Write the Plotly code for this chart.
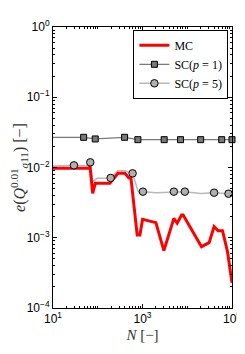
import plotly.graph_objects as go

# MC series
mc_n = [10, 65, 67, 77, 88, 187, 283, 405, 497, 551, 762, 875, 1005, 1990, 3006,
        5023, 5957, 7470, 8090, 9954, 20840, 30830, 39810, 48980, 61380, 79430,
        97500, 100000]
mc_e = [0.00975, 0.00975, 0.0105, 0.0043, 0.00596, 0.00596, 0.00826, 0.00826,
        0.0071, 0.0071, 0.00109, 0.00109, 0.00183, 0.00164, 0.000655, 0.00189,
        0.00161, 0.00211, 0.00211, 0.00169, 0.000746, 0.000851, 0.00144, 0.00126,
        0.00126, 0.000632, 0.000251, 0.000229]

# SC(p=1) line and markers
sc1_line_n = [10, 48.4, 87.9, 398, 789, 3048, 7079, 19950, 58880, 100000]
sc1_line_e = [0.0269, 0.0269, 0.0255, 0.0269, 0.0249, 0.0249, 0.0249, 0.0249, 0.0249, 0.0249]
sc1_mark_n = [48.4, 87.9, 398, 789, 3048, 7079, 19950, 58880, 100000]
sc1_mark_e = [0.0269, 0.0255, 0.0269, 0.0249, 0.0249, 0.0249, 0.0249, 0.0249, 0.0249]

# SC(p=5) line and markers
sc5_line_n = [10, 29.4, 63, 68, 78, 96, 194, 282, 405, 601, 802, 1021, 1995, 5023,
              8831, 19950, 39810, 83560, 100000]
sc5_line_e = [0.0105, 0.01074, 0.0106, 0.01186, 0.00628, 0.00702, 0.0071, 0.009,
              0.009, 0.00826, 0.00453, 0.00453, 0.00437, 0.00453, 0.00453, 0.00427,
              0.00438, 0.00424, 0.00427]
sc5_mark_n = [29.4, 68, 194, 601, 1021, 5023, 8831, 39810, 83560]
sc5_mark_e = [0.01074, 0.01186, 0.0071, 0.00826, 0.00453, 0.00453, 0.00453, 0.00438, 0.00424]

labels = ["MC", "SC(<i>p</i> = 1)", "SC(<i>p</i> = 5)"]

x_tickvals = [10, 1000, 100000]
x_ticktext = ["10<sup>1</sup>", "10<sup>3</sup>", "10<sup>5</sup>"]
y_tickvals = [1, 0.1, 0.01, 0.001, 0.0001]
y_ticktext = ["10<sup>0</sup>", "10<sup>−1</sup>", "10<sup>−2</sup>", "10<sup>−3</sup>", "10<sup>−4</sup>"]

c1_line = "#7a7a7a"
c1_fill = "#787878"
c5_line = "#b8b8b8"
c5_fill = "#b0b0b0"

fig = go.Figure()

fig.add_trace(go.Scatter(x=sc1_line_n, y=sc1_line_e, mode="lines",
                         line=dict(color=c1_line, width=1.2), showlegend=False))
fig.add_trace(go.Scatter(x=sc5_line_n, y=sc5_line_e, mode="lines",
                         line=dict(color=c5_line, width=1.5), showlegend=False))
fig.add_trace(go.Scatter(x=mc_n, y=mc_e, mode="lines",
                         line=dict(color="#ff0000", width=3), showlegend=False))
fig.add_trace(go.Scatter(x=sc1_mark_n, y=sc1_mark_e, mode="markers",
                         marker=dict(symbol="square", size=6, color=c1_fill,
                                     line=dict(color="black", width=1)),
                         showlegend=False, cliponaxis=False))
fig.add_trace(go.Scatter(x=sc5_mark_n, y=sc5_mark_e, mode="markers",
                         marker=dict(symbol="circle", size=7.5, color=c5_fill,
                                     line=dict(color="black", width=1)),
                         showlegend=False, cliponaxis=False))

# legend entries
fig.add_trace(go.Scatter(x=[None], y=[None], mode="lines", name=labels[0],
                         line=dict(color="#ff0000", width=3)))
fig.add_trace(go.Scatter(x=[None], y=[None], mode="lines+markers", name=labels[1],
                         line=dict(color=c1_line, width=1.2),
                         marker=dict(symbol="square", size=6, color=c1_fill,
                                     line=dict(color="black", width=1))))
fig.add_trace(go.Scatter(x=[None], y=[None], mode="lines+markers", name=labels[2],
                         line=dict(color=c5_line, width=1.5),
                         marker=dict(symbol="circle", size=7.5, color=c5_fill,
                                     line=dict(color="black", width=1))))

axis_common = dict(
    type="log", showgrid=False, zeroline=False, showline=True, mirror="ticks",
    linecolor="black", linewidth=1, ticks="inside", ticklen=4, tickcolor="black",
    automargin=False, ticklabeloverflow="allow",
    tickfont=dict(family="Liberation Sans", size=12, color="black"),
    minor=dict(ticks="inside", ticklen=2, tickcolor="black", dtick="D1", showgrid=False),
)

fig.update_xaxes(**axis_common, range=[1, 5], tickvals=x_tickvals, ticktext=x_ticktext,
                 title=dict(text="<i>N</i> [−]", standoff=4,
                            font=dict(family="Liberation Serif", size=15, color="#333")))
fig.update_yaxes(**axis_common, range=[-4, 0], tickvals=y_tickvals, ticktext=y_ticktext,
                 title=dict(text="<i>e</i>(<i>Q</i><sup>0.01</sup><sub><i>σ</i>11</sub>) [−]",
                            standoff=2,
                            font=dict(family="Liberation Serif", size=16, color="#333")))

# page body has an 8px margin; size the figure so it fits the 245x354 window
fig.update_layout(
    width=237, height=346,
    margin=dict(l=45, r=12.5, t=19, b=46),
    plot_bgcolor="white", paper_bgcolor="white",
    legend=dict(x=0.98, y=0.99, xanchor="right", yanchor="top",
                bgcolor="white", bordercolor="black", borderwidth=1,
                font=dict(family="Liberation Serif", size=12, color="black"),
                itemwidth=30, tracegroupgap=0, traceorder="normal"),
)

fig.write_html("out.html")
